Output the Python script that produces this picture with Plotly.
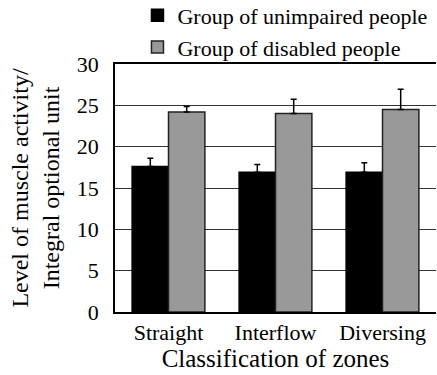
import plotly.graph_objects as go

categories = ["Straight", "Interflow", "Diversing"]
unimpaired = [17.6, 16.9, 16.9]
unimpaired_err = [1.0, 0.95, 1.15]
disabled = [24.2, 24.0, 24.5]
disabled_err = [0.65, 1.75, 2.45]
y_ticks = [0, 5, 10, 15, 20, 25, 30]

FONT = "Times New Roman, Liberation Serif, serif"

fig = go.Figure()
fig.add_trace(go.Bar(
    x=categories, y=unimpaired, name="Group of unimpaired people",
    marker=dict(color="#000000", line=dict(color="#000000", width=1.5)),
    error_y=dict(type="data", array=unimpaired_err, symmetric=False,
                 arrayminus=[0, 0, 0], color="#000000", thickness=1.5, width=3),
))
fig.add_trace(go.Bar(
    x=categories, y=disabled, name="Group of disabled people",
    marker=dict(color="#999999", line=dict(color="#222222", width=1.5)),
    error_y=dict(type="data", array=disabled_err, symmetric=False,
                 arrayminus=[0, 0, 0], color="#000000", thickness=1.5, width=3),
))

fig.update_layout(
    width=437, height=375,
    margin=dict(l=115, r=1, t=64, b=63, autoexpand=False),
    paper_bgcolor="white", plot_bgcolor="white",
    font=dict(family=FONT, size=21, color="#000000"),
    barmode="group", bargap=0.32, bargroupgap=0,
    showlegend=True,
    legend=dict(x=0.07, y=1.28, xanchor="left", yanchor="top",
                font=dict(size=22, family=FONT), tracegroupgap=0,
                bgcolor="rgba(0,0,0,0)"),
    xaxis=dict(
        showline=True, linecolor="#000000", linewidth=1.5, mirror=True,
        showgrid=False, ticks="", tickfont=dict(size=22, family=FONT),
        title=dict(text="Classification of zones", font=dict(size=25, family=FONT), standoff=0),
        range=[-0.5, 2.5],
    ),
    yaxis=dict(
        range=[0, 30], tickvals=y_ticks, ticks="",
        showline=True, linecolor="#000000", linewidth=1.5,
        showgrid=True, gridcolor="#333333", gridwidth=1,
        tickfont=dict(size=22, family=FONT), ticklabelstandoff=10,
        title=dict(text="Level of muscle activity/<br>Integral optional unit",
                   font=dict(size=24, family=FONT), standoff=10),
        zeroline=False,
    ),
)

fig.write_html("out.html")
